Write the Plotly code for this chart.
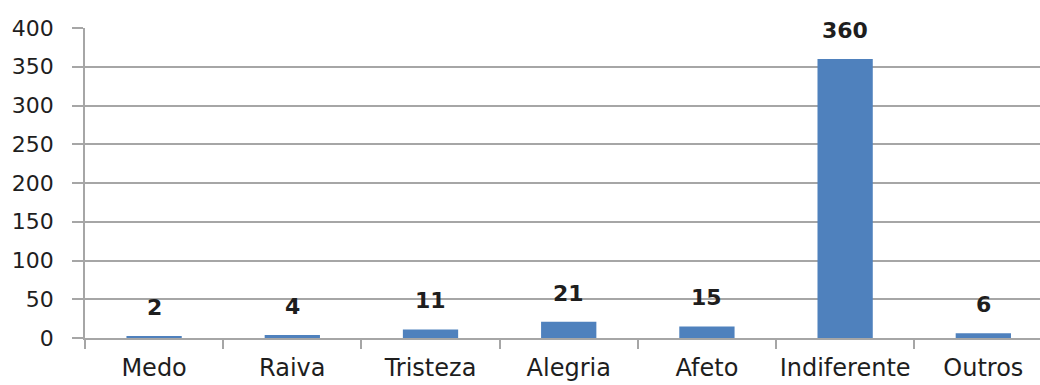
import plotly.graph_objects as go

# Emotion categories and their counts
categories = ["Medo", "Raiva", "Tristeza", "Alegria", "Afeto", "Indiferente", "Outros"]
counts = [2, 4, 11, 21, 15, 360, 6]
y_ticks = [0, 50, 100, 150, 200, 250, 300, 350, 400]

BAR_COLOR = "#4F81BD"
GRID_COLOR = "#A6A6A6"
TEXT_COLOR = "#1E1E1E"

fig = go.Figure()
fig.add_trace(go.Bar(
    x=categories,
    y=counts,
    marker=dict(color=BAR_COLOR, line=dict(width=0)),
    width=0.4,
    hoverinfo="skip",
))

# Value labels above each bar
for cat, val in zip(categories, counts):
    fig.add_annotation(
        x=cat, y=val, text=f"<b>{val}</b>",
        showarrow=False, yanchor="bottom", yshift=14,
        font=dict(family="DejaVu Sans", size=22, color=TEXT_COLOR),
    )

fig.update_layout(
    width=1040,
    height=385,
    margin=dict(l=85, r=0, t=28, b=47),
    paper_bgcolor="white",
    plot_bgcolor="white",
    showlegend=False,
    bargap=0.6,
)

fig.update_xaxes(
    type="category",
    range=[-0.5, 6.41],
    automargin=False,
    tickangle=0,
    showline=True, linecolor=GRID_COLOR, linewidth=1.5,
    ticks="outside", tickson="boundaries", ticklen=9, tickcolor=GRID_COLOR, tickwidth=1.5,
    showgrid=False,
    ticklabelstandoff=7,
    tickfont=dict(family="DejaVu Sans", size=24, color=TEXT_COLOR),
)

fig.update_yaxes(
    range=[0, 400],
    tickvals=y_ticks,
    automargin=False,
    showline=True, linecolor=GRID_COLOR, linewidth=1.5,
    ticks="outside", ticklen=11, tickcolor=GRID_COLOR, tickwidth=1.5,
    showgrid=True, gridcolor=GRID_COLOR, gridwidth=1.5,
    zeroline=False,
    ticklabelstandoff=14,
    tickfont=dict(family="DejaVu Sans", size=22, color=TEXT_COLOR),
)

fig.write_html("out.html")
